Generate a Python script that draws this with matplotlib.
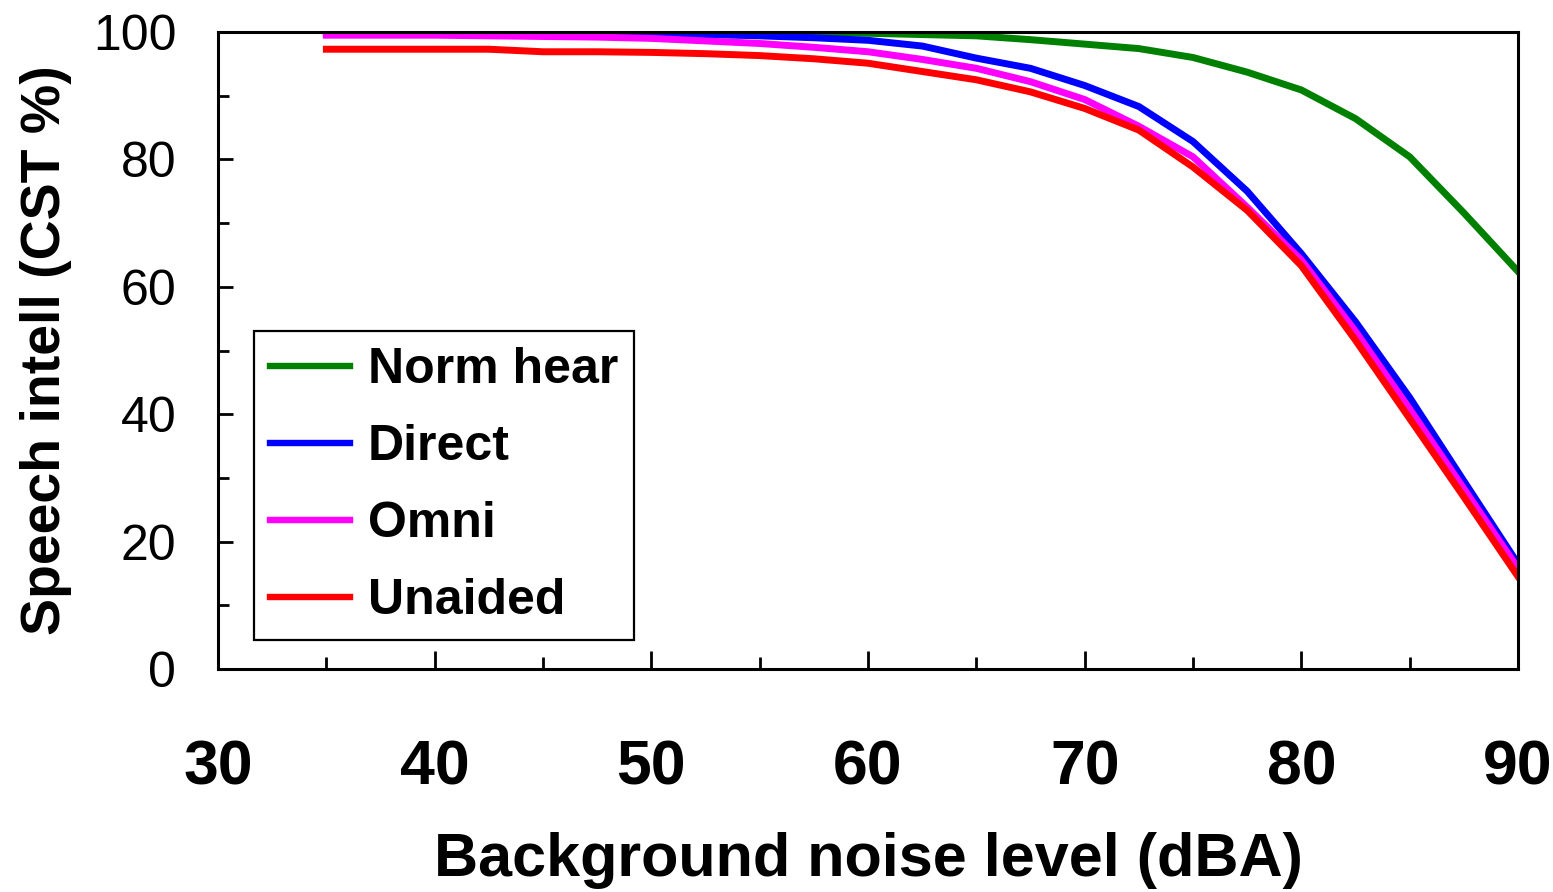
import matplotlib
matplotlib.use("Agg")
import matplotlib.pyplot as plt
from matplotlib.ticker import MultipleLocator

plt.rcParams['font.family'] = ['Liberation Sans', 'DejaVu Sans']

# noise level (dBA)
noise = [35, 37.5, 40, 42.5, 45, 47.5, 50, 52.5, 55, 57.5, 60, 62.5, 65,
         67.5, 70, 72.5, 75, 77.5, 80, 82.5, 85, 87.5, 90]

# speech intelligibility (CST %)
norm_hear = [100, 100, 100, 100, 100, 100, 100, 100, 99.9, 99.9, 99.8, 99.6, 99.4,
             98.8, 98.1, 97.4, 96.0, 93.7, 90.9, 86.4, 80.4, 71.6, 62.4]
direct = [99.8, 99.8, 99.8, 99.8, 99.8, 99.8, 99.7, 99.6, 99.4, 99.1, 98.7, 97.8, 95.9,
          94.3, 91.6, 88.3, 82.8, 75.0, 65.2, 54.5, 42.6, 29.5, 16.5]
omni = [99.5, 99.5, 99.5, 99.4, 99.3, 99.2, 99.0, 98.6, 98.2, 97.6, 96.9, 95.7, 94.3,
        92.2, 89.4, 85.2, 80.4, 72.5, 64.2, 53.0, 40.8, 28.3, 15.8]
unaided = [97.3, 97.3, 97.3, 97.3, 96.9, 96.9, 96.8, 96.6, 96.3, 95.8, 95.1, 93.8, 92.5,
           90.6, 88.0, 84.6, 78.8, 72.0, 63.3, 51.6, 39.3, 27.0, 14.5]

series = [("Norm hear", norm_hear, "#008000"),
          ("Direct", direct, "#0000ff"),
          ("Omni", omni, "#ff00ff"),
          ("Unaided", unaided, "#ff0000")]

fig = plt.figure(figsize=(15.53, 8.92), dpi=100)
ax = fig.add_axes([0.1404, 0.25, 0.8371, 0.7141])

for name, vals, col in series:
    ax.plot(noise, vals, color=col, lw=5, label=name, solid_joinstyle='miter')

ax.set_xlim(30, 90)
ax.set_ylim(0, 100)
ax.xaxis.set_major_locator(MultipleLocator(10))
ax.xaxis.set_minor_locator(MultipleLocator(5))
ax.yaxis.set_major_locator(MultipleLocator(20))
ax.yaxis.set_minor_locator(MultipleLocator(10))

for s in ax.spines.values():
    s.set_linewidth(2.2)

ax.tick_params(axis='x', which='major', direction='in', length=13, width=2,
               pad=50, labelsize=45)
ax.tick_params(axis='x', which='minor', direction='in', length=9, width=2)
ax.tick_params(axis='y', which='major', direction='in', length=11, width=2,
               pad=30, labelsize=36)
ax.tick_params(axis='y', which='minor', direction='in', length=8, width=2)
for lab in ax.get_xticklabels():
    lab.set_fontweight('bold')

ax.set_xlabel("Background noise level (dBA)", fontsize=44, fontweight='bold', labelpad=25)
ax.set_ylabel("Speech intell (CST %)", fontsize=40, fontweight='bold', labelpad=15)

leg = ax.legend(loc='lower left', bbox_to_anchor=(0.0277, 0.0455), borderaxespad=0,
                fancybox=False, framealpha=1, edgecolor='black',
                prop={'size': 36, 'weight': 'bold'}, handlelength=1.6,
                handletextpad=0.35, labelspacing=0.62, borderpad=0.32)
leg.get_frame().set_linewidth(1.6)
for line in leg.get_lines():
    line.set_linewidth(4.6)

fig.savefig("out.png", dpi=100)
